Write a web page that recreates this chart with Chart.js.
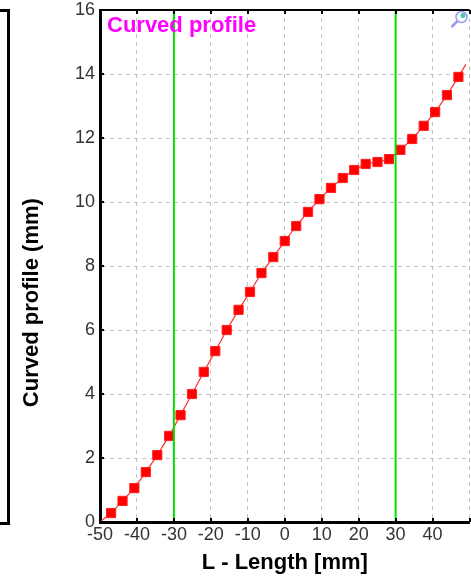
<!DOCTYPE html>
<html>
<head>
<meta charset="utf-8">
<script src="https://cdn.jsdelivr.net/npm/chart.js@4/dist/chart.umd.min.js"></script>
<style>
    html, body { margin: 0; padding: 0; background: #fff; overflow: hidden; }
    #wrap { position: relative; width: 471px; height: 582px; overflow: hidden; }
    #prev { position: absolute; box-sizing: border-box; left: -100px; top: 9px; width: 110px; height: 516px; border: 3px solid #000; }
    canvas { position: absolute; left: 0; top: 0; }
</style>
</head>
<body>
<div id="wrap">
    <div id="prev"></div>
    <canvas id="myChart" width="477" height="582"></canvas>
</div>
<script>
// measured points of the profile
const lengthMm = [-47, -43.9, -40.7, -37.6, -34.5, -31.3, -28.2, -25.1, -21.9, -18.8, -15.7, -12.5, -9.4, -6.3, -3.1, 0,
                  3.1, 6.3, 9.4, 12.5, 15.7, 18.8, 21.9, 25.1, 28.2, 31.3, 34.5, 37.6, 40.7, 43.9, 47];
const profileMm = [0.28, 0.66, 1.06, 1.56, 2.09, 2.69, 3.34, 4.0, 4.69, 5.34, 6.0, 6.63, 7.19, 7.78, 8.28, 8.78,
                   9.25, 9.69, 10.09, 10.44, 10.75, 11.0, 11.19, 11.25, 11.34, 11.63, 11.97, 12.38, 12.81, 13.34, 13.91];
// the curve runs a little past the first and last markers
const curveStart = [-50, 0];
const curveEnd = [49, 14.3];
// green limit lines
const limitX = [-30, 30];
const xTicks = [-50, -40, -30, -20, -10, 0, 10, 20, 30, 40, 50];
const yTicks = [0, 2, 4, 6, 8, 10, 12, 14, 16];

const font = "'Liberation Sans', Arial, sans-serif";

const markers = lengthMm.map((x, i) => ({ x: x, y: profileMm[i] }));
const curve = [{ x: curveStart[0], y: curveStart[1] }].concat(markers, [{ x: curveEnd[0], y: curveEnd[1] }]);

const limitSets = limitX.map(x => ({
    data: [{ x: x, y: yTicks[0] }, { x: x, y: yTicks[yTicks.length - 1] }],
    borderColor: '#00e000',
    borderWidth: 2,
    pointRadius: 0,
    showLine: true,
    order: 0,
}));

const decor = {
    id: 'decor',
    afterDraw(chart) {
        const ctx = chart.ctx;
        const a = chart.chartArea;
        const xs = chart.scales.x, ys = chart.scales.y;
        const right = Math.min(a.right, 471);
        ctx.save();
        // top frame line
        ctx.strokeStyle = '#000';
        ctx.lineWidth = 2;
        ctx.beginPath();
        ctx.moveTo(a.left, a.top);
        ctx.lineTo(a.right, a.top);
        ctx.stroke();
        // inward tick marks
        ctx.lineWidth = 2;
        ctx.beginPath();
        xTicks.forEach(v => {
            const px = Math.round(xs.getPixelForValue(v));
            ctx.moveTo(px, a.bottom); ctx.lineTo(px, a.bottom - 4);
            ctx.moveTo(px, a.top); ctx.lineTo(px, a.top + 4);
        });
        yTicks.forEach(v => {
            const py = Math.round(ys.getPixelForValue(v));
            ctx.moveTo(a.left, py); ctx.lineTo(a.left + 4, py);
        });
        ctx.stroke();
        // title inside the plot
        ctx.fillStyle = '#ff00ff';
        ctx.font = 'bold 22px ' + font;
        ctx.textBaseline = 'top';
        ctx.fillText('Curved profile', a.left + 7, a.top + 5);
        // zoom icon
        const cx = right - 8, cy = a.top + 7;
        ctx.strokeStyle = '#9a9af0';
        ctx.lineWidth = 1.5;
        ctx.beginPath();
        ctx.arc(cx, cy, 5.5, 0, Math.PI * 2);
        ctx.stroke();
        ctx.beginPath();
        ctx.moveTo(cx - 4, cy + 4);
        ctx.lineTo(cx - 10, cy + 10);
        ctx.lineWidth = 2.5;
        ctx.stroke();
        ctx.fillStyle = '#40c8b0';
        ctx.beginPath();
        ctx.arc(cx + 1.5, cy - 1.5, 2.5, 0, Math.PI * 2);
        ctx.fill();
        ctx.restore();
    }
};

const config = {
    type: 'scatter',
    data: {
        datasets: [
            ...limitSets,
            {
                data: markers,
                pointStyle: 'rect',
                pointRadius: 6.5,
                pointBackgroundColor: '#ff0000',
                pointBorderColor: '#ff2020',
                pointBorderWidth: 1,
                showLine: false,
                order: 1,
            },
            {
                data: curve,
                borderColor: '#ff3030',
                borderWidth: 1.2,
                pointRadius: 0,
                showLine: true,
                order: 2,
            },
        ]
    },
    options: {
        responsive: false,
        animation: false,
        devicePixelRatio: 1,
        layout: { padding: { top: 10, right: 0, bottom: 0, left: 0 } },
        plugins: {
            legend: { display: false },
            tooltip: { enabled: false },
        },
        scales: {
            x: {
                type: 'linear',
                min: -50, max: 50,
                afterFit: s => { s.height = 60; s.paddingLeft = 0; s.paddingRight = 0; },
                afterBuildTicks: s => { s.ticks = xTicks.map(v => ({ value: v })); },
                ticks: {
                    callback: v => (v === 50 ? '' : v),
                    color: '#333',
                    font: { family: font, size: 18, lineHeight: 1 },
                    padding: 4,
                    maxRotation: 0,
                },
                grid: { color: '#c4c4c4', lineWidth: 1, drawTicks: false },
                border: { display: true, color: '#000', width: 3, dash: [4, 4] },
                title: {
                    display: true,
                    text: 'L - Length [mm]',
                    color: '#000',
                    font: { family: font, size: 22, weight: 'bold' },
                    padding: { top: 0, bottom: 6 },
                },
            },
            y: {
                min: 0, max: 16,
                afterFit: s => { s.width = 100; s.paddingTop = 0; s.paddingBottom = 0; },
                afterBuildTicks: s => { s.ticks = yTicks.map(v => ({ value: v })); },
                ticks: {
                    color: '#333',
                    font: { family: font, size: 18, lineHeight: 1 },
                    padding: 5,
                },
                grid: { color: '#c4c4c4', lineWidth: 1, drawTicks: false },
                border: { display: true, color: '#000', width: 3, dash: [4, 4] },
                title: {
                    display: true,
                    text: 'Curved profile (mm)' + '            ',
                    color: '#000',
                    font: { family: font, size: 22, weight: 'bold' },
                    padding: { top: 19, bottom: 0 },
                },
            },
        },
    },
    plugins: [decor],
};

const chart = new Chart(document.getElementById('myChart').getContext('2d'), config);
</script>
</body>
</html>
